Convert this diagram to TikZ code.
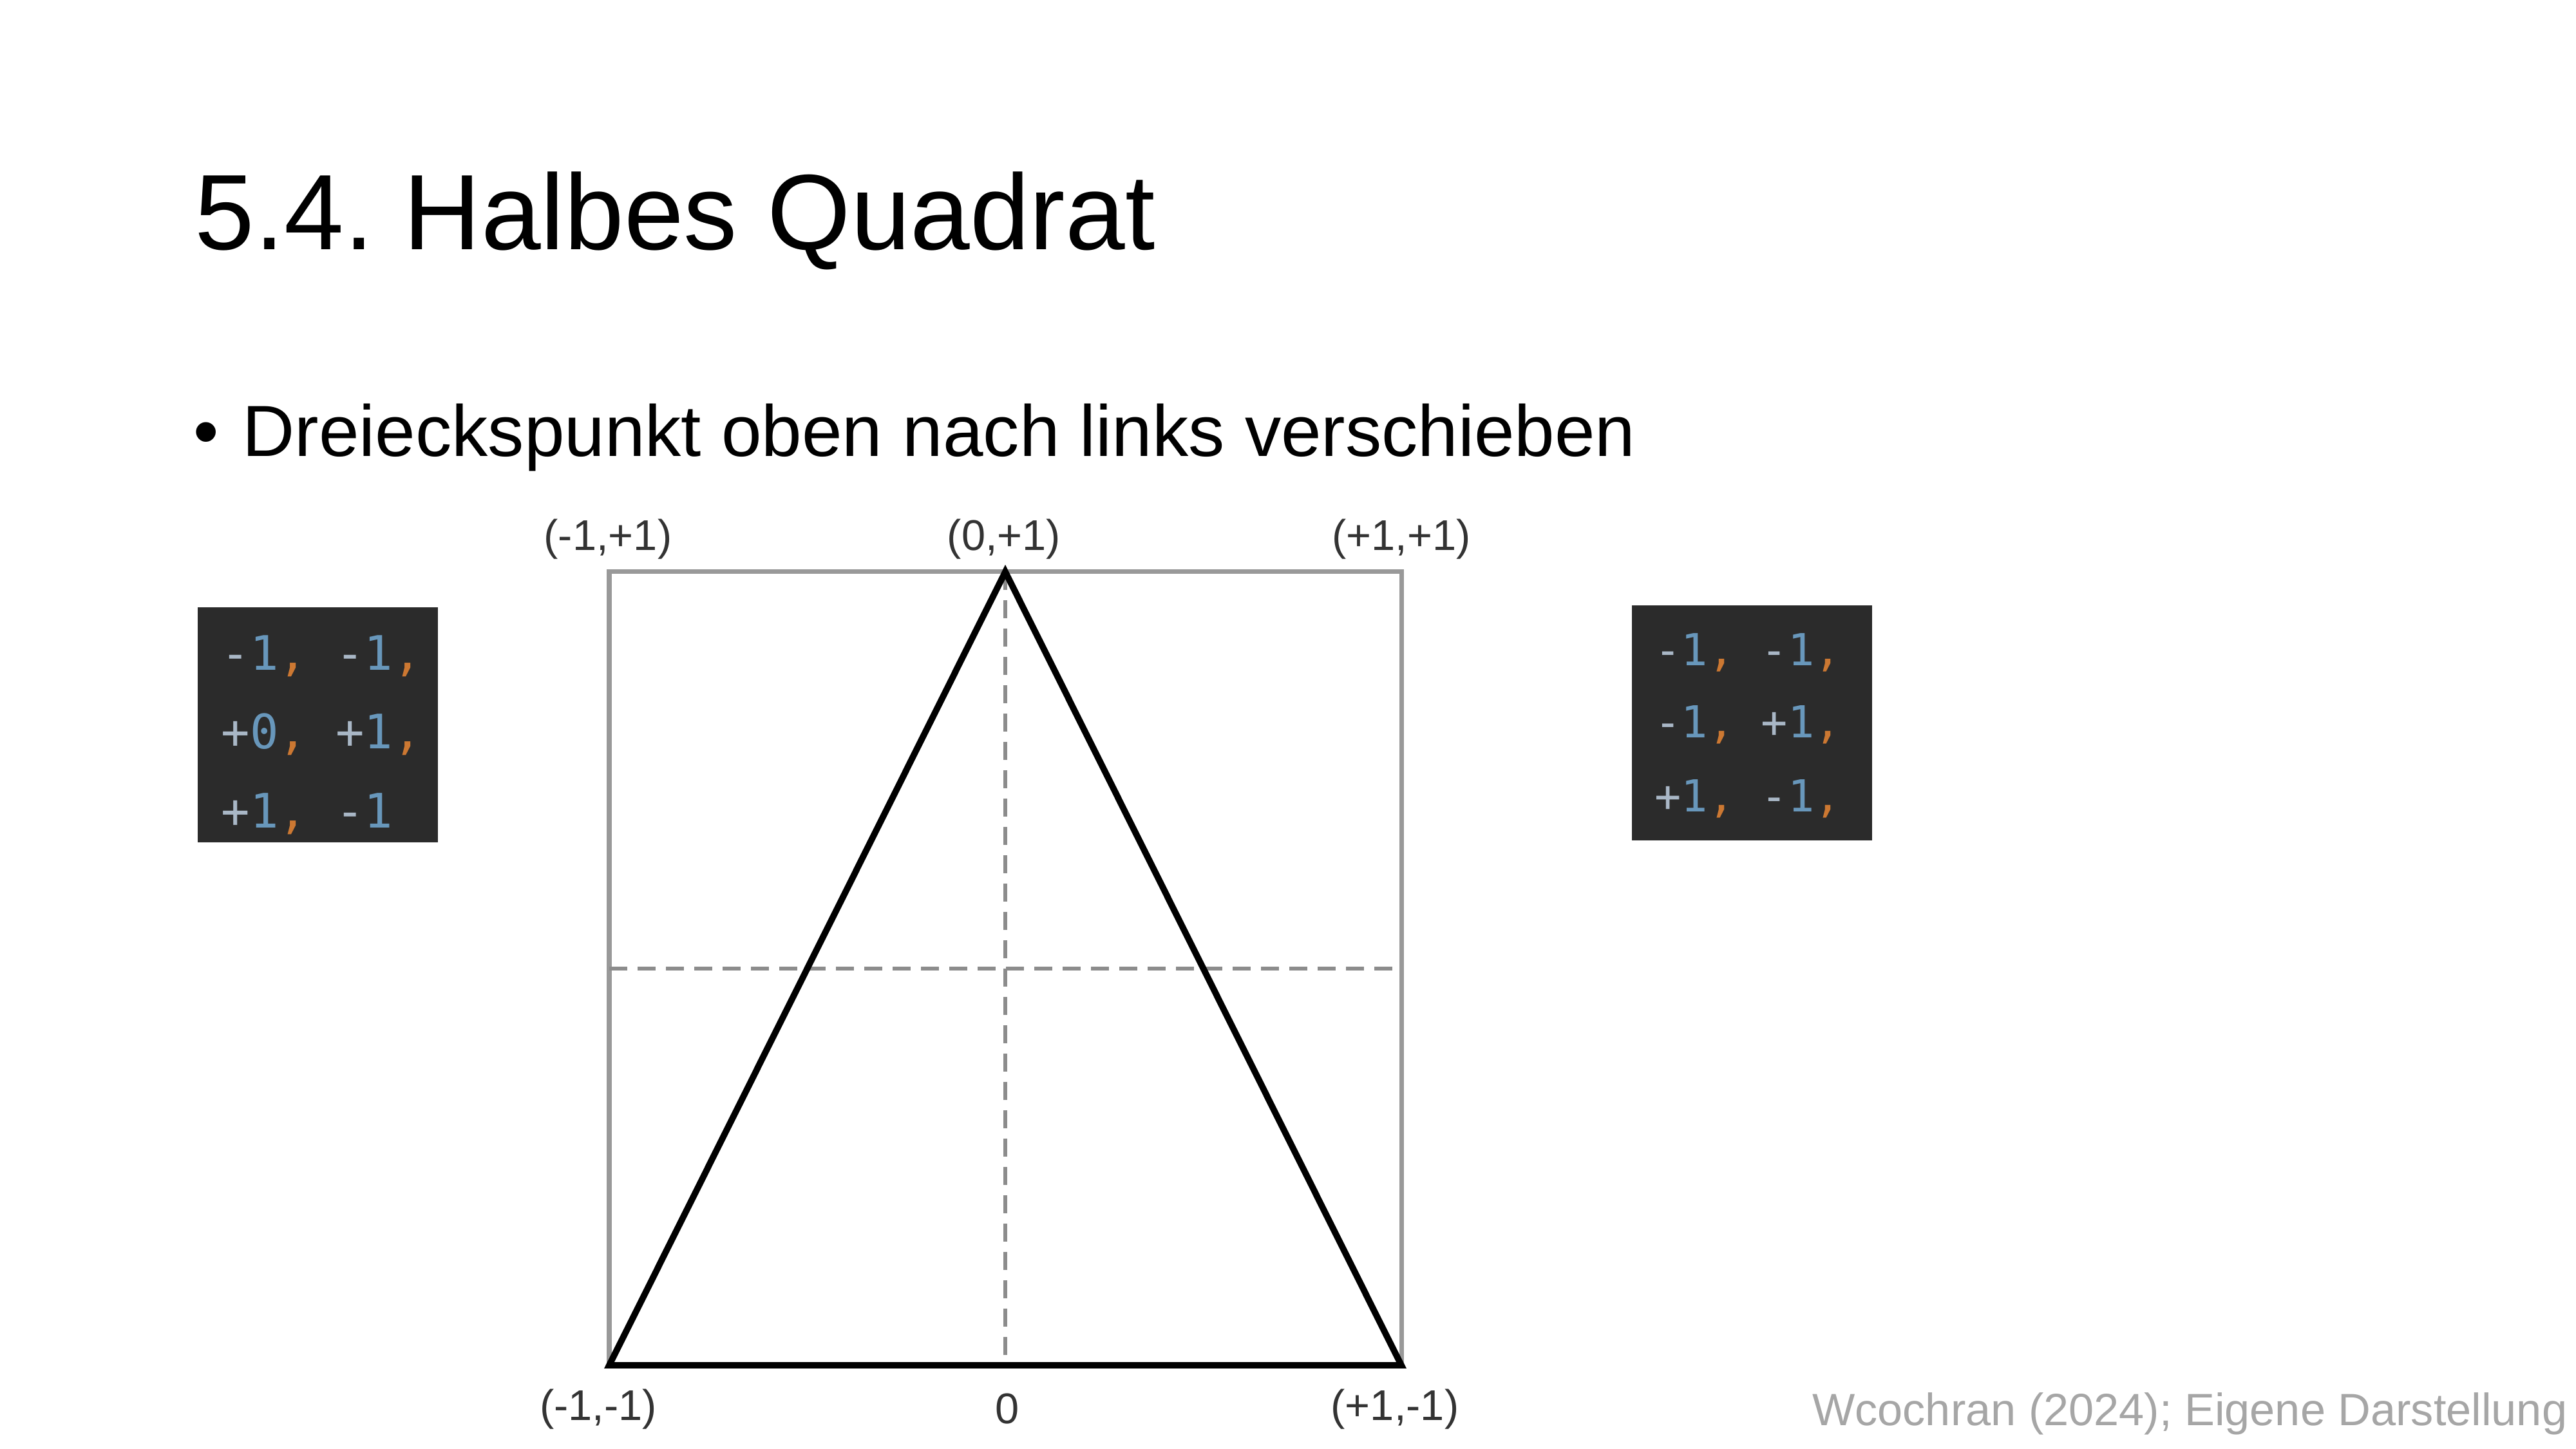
\documentclass[tikz,border=0pt]{standalone}
\usepackage{fontspec}
\setmainfont{Liberation Sans}
\setmonofont{DejaVu Sans Mono}
\usepackage{xcolor}
\usetikzlibrary{positioning,calc}
\frenchspacing
\definecolor{codebg}{HTML}{2B2B2B}
\definecolor{codesign}{HTML}{A9B7C6}
\definecolor{codenum}{HTML}{6897BB}
\definecolor{codecomma}{HTML}{CC7832}
\definecolor{credit}{HTML}{A6A6A6}
\definecolor{frame}{HTML}{999999}
\definecolor{guide}{HTML}{8C8C8C}
\newcommand{\csgn}[1]{\textcolor{codesign}{#1}}
\newcommand{\cnum}[1]{\textcolor{codenum}{#1}}
\newcommand{\ccom}{\textcolor{codecomma}{,}}
\tikzset{
  codebox/.style={rectangle, fill=codebg, draw=none, anchor=south west,
    minimum width=#1, minimum height=3.65cm, inner sep=0pt},
  codebox/.default=3.73cm,
  codeline/.style={anchor=base west, inner sep=0pt, font=\ttfamily\fontsize{#1}{#1}\selectfont},
  codeline/.default=21pt,
  coordlabel/.style={font=\fontsize{19}{19}\selectfont, text=black!80, inner sep=0pt},
  squareframe/.style={draw=frame, line width=2pt},
  guideline/.style={draw=guide, line width=1.6pt, dash pattern=on 0.28cm off 0.16cm},
  triline/.style={draw=black, line width=2.8pt, line join=miter},
}
\begin{document}
\begin{tikzpicture}
  \useasboundingbox (0,0) rectangle (40,22.5);
  % heading
  \node[anchor=base west, inner sep=0pt, font=\fontsize{47.4}{47.4}\selectfont] (title) at (3.02,18.62) {5.4. Halbes Quadrat};
  \node[anchor=base west, inner sep=0pt, font=\fontsize{32}{32}\selectfont] (bullet) at (3.0,15.41) {\textbullet};
  \node[anchor=base west, inner sep=0pt, font=\fontsize{32}{32}\selectfont] (point) at (3.76,15.41) {Dreieckspunkt oben nach links verschieben};
  % square with guides
  \coordinate (sw) at (9.46,1.30);
  \coordinate (ne) at (21.76,13.62);
  \coordinate (nw) at (sw |- ne);
  \coordinate (se) at (ne |- sw);
  \coordinate (top) at ($(nw)!0.5!(ne)$);
  \coordinate (bot) at ($(sw)!0.5!(se)$);
  \coordinate (midl) at ($(sw)!0.5!(nw)$);
  \coordinate (midr) at ($(se)!0.5!(ne)$);
  \draw[squareframe] (sw) rectangle (ne);
  \draw[guideline] (top) -- (bot);
  \draw[guideline] (midl) -- (midr);
  \draw[triline] (sw) -- (top) -- (se) -- cycle;
  % corner labels
  \node[coordlabel] (lnw) at (9.44,14.13) {(-1,+1)};
  \node[coordlabel] (ltop) at (15.59,14.13) {(0,+1)};
  \node[coordlabel] (lne) at (21.76,14.13) {(+1,+1)};
  \node[coordlabel] (lsw) at (9.29,0.62) {(-1,-1)};
  \node[coordlabel] (lbot) at (15.64,0.62) {0};
  \node[coordlabel] (lse) at (21.66,0.62) {(+1,-1)};
  % vertex data before
  \node[codebox] (codeL) at (3.06,9.41) {};
  \node[codeline] (codeLa) at (3.43,12.09) {\csgn{-}\cnum{1}\ccom{} \csgn{-}\cnum{1}\ccom};
  \node[codeline] (codeLb) at (3.43,10.87) {\csgn{+}\cnum{0}\ccom{} \csgn{+}\cnum{1}\ccom};
  \node[codeline] (codeLc) at (3.43,9.64) {\csgn{+}\cnum{1}\ccom{} \csgn{-}\cnum{1}};
  % vertex data after
  \node[codebox] (codeR) at (25.33,9.44) {};
  \node[codeline=19.5pt] (codeRa) at (25.69,12.16) {\csgn{-}\cnum{1}\ccom{} \csgn{-}\cnum{1}\ccom};
  \node[codeline=19.5pt] (codeRb) at (25.69,11.04) {\csgn{-}\cnum{1}\ccom{} \csgn{+}\cnum{1}\ccom};
  \node[codeline=19.5pt] (codeRc) at (25.69,9.89) {\csgn{+}\cnum{1}\ccom{} \csgn{-}\cnum{1}\ccom};
  % source
  \node[anchor=base east, inner sep=0pt, text=credit, font=\fontsize{20}{20}\selectfont] (source) at (39.87,0.36) {Wcochran (2024); Eigene Darstellung};
\end{tikzpicture}
\end{document}
